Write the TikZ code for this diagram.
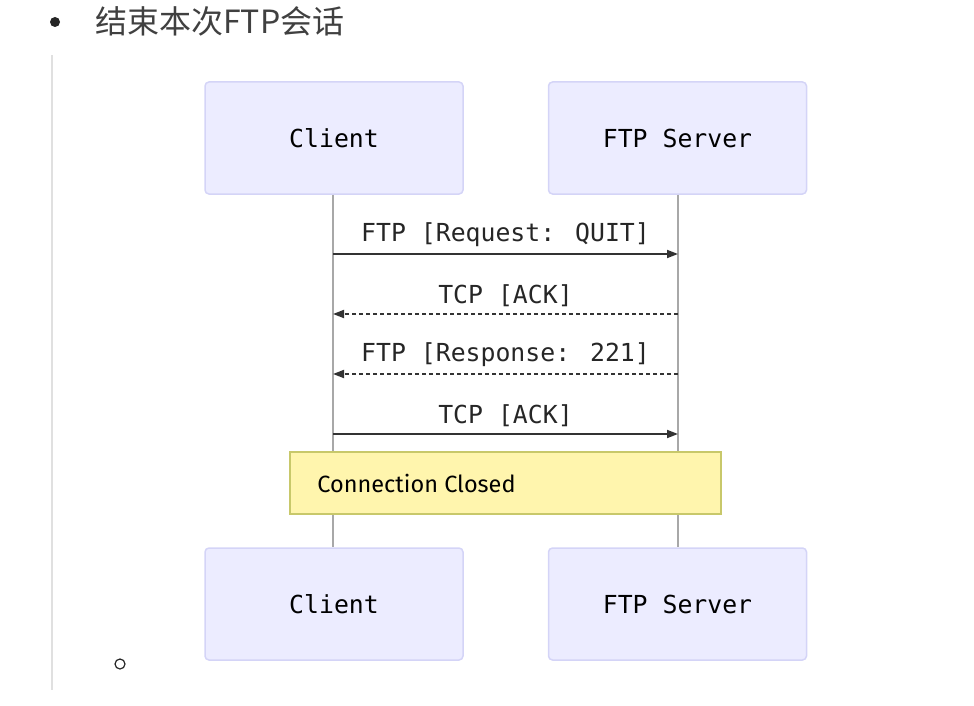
\documentclass[tikz,border=0pt]{standalone}
\usepackage{fontspec}
\usetikzlibrary{arrows.meta,positioning}
\newfontfamily\cjk{Noto Sans CJK SC}
\newfontfamily\seqmono{DejaVu Sans Mono}
\newfontfamily\notefont{Fira Sans}
\definecolor{actorfill}{HTML}{ECECFF}
\definecolor{actorline}{HTML}{D4D4F7}
\definecolor{notefill}{HTML}{FFF5AD}
\definecolor{noteline}{HTML}{C8C86A}
\definecolor{msgcol}{HTML}{333333}
\definecolor{lifecol}{HTML}{A8A8A8}

\begin{document}
\begin{tikzpicture}[x=1pt, y=-1pt,
    actor/.style={draw=actorline, line width=1.5pt, fill=actorfill, rounded corners=4pt,
        minimum width=258pt, minimum height=112pt, text=black,
        font=\seqmono\fontsize{24.8}{28}\selectfont},
    msg/.style={draw=msgcol, line width=1.8pt, -{Triangle[length=11pt,width=8pt]}},
    reply/.style={msg, dash pattern=on 4pt off 3pt},
    msglabel/.style={above=3pt, text=black!85, font=\seqmono\fontsize{24.8}{28}\selectfont}]
    \useasboundingbox (0,0) rectangle (974,706);

    % bullet and heading
    \fill[black!85] (55,22) circle (5);
    \node[anchor=west, inner sep=0pt, text=black!75, font=\cjk\fontsize{32}{36}\selectfont]
        (title) at (95,21) {结束本次FTP会话};

    % left rule of the quote block
    \draw[black!12, line width=1.5pt] (52,55) -- (52,690);

    % --- participants ---
    \node[actor] (clienttop) at (334,138) {Client};
    \node[actor] (servertop) at (677.5,138) {FTP Server};
    \node[actor] (clientbot) at (334,604) {Client};
    \node[actor] (serverbot) at (677.5,604) {FTP Server};

    % lifelines
    \draw[lifecol, line width=1.5pt] (clienttop.south -| 333,0) -- (clientbot.north -| 333,0);
    \draw[lifecol, line width=1.5pt] (servertop.south -| 678,0) -- (serverbot.north -| 678,0);

    % points on the lifelines
    \foreach \i/\y in {1/254, 2/314, 3/374, 4/434} {
        \coordinate (c\i) at (333,\y);
        \coordinate (s\i) at (678,\y);
    }

    % --- messages ---
    \draw[msg] (c1) -- (s1) node[midway, msglabel] {FTP [Request: QUIT]};
    \draw[reply] (s2) -- (c2) node[midway, msglabel] {TCP [ACK]};
    \draw[reply] (s3) -- (c3) node[midway, msglabel] {FTP [Response: 221]};
    \draw[msg] (c4) -- (s4) node[midway, msglabel] {TCP [ACK]};

    % note over both
    \node[draw=noteline, line width=1.5pt, fill=notefill, minimum width=431pt, minimum height=62pt]
        (closed) at (505.5,483) {};
    \node[anchor=west, inner sep=0pt, font=\notefont\fontsize{23.5}{26}\selectfont]
        (closedtext) at ([xshift=28pt]closed.west) {Connection Closed};

    % sub-bullet
    \draw[black!85, line width=1.2pt] (120,664) circle (5);
\end{tikzpicture}
\end{document}
